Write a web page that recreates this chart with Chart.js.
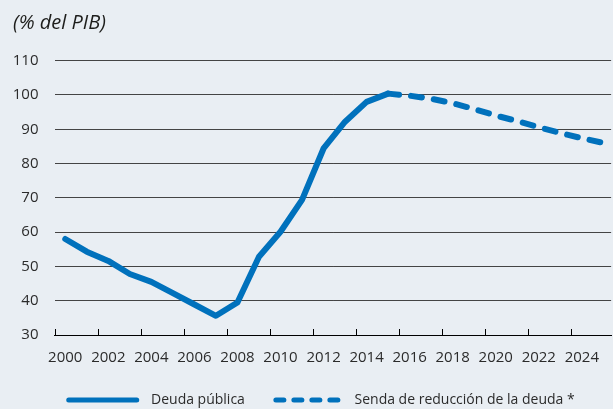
<!DOCTYPE html>
<html lang="es">
  <head>
    <meta charset="UTF-8" />
    <title>Deuda pública (% del PIB)</title>
    <script src="https://cdn.jsdelivr.net/npm/chart.js@4"></script>
    <style>
      html, body { margin: 0; padding: 0; background: #e9eef3; overflow: hidden; }
    </style>
  </head>
  <body>
    <canvas id="myChart" width="613" height="409"></canvas>

    <script>
      // Years and values
      const years = [2000, 2001, 2002, 2003, 2004, 2005, 2006, 2007, 2008, 2009, 2010, 2011, 2012,
                     2013, 2014, 2015, 2016, 2017, 2018, 2019, 2020, 2021, 2022, 2023, 2024, 2025];
      // 2000-2015 observed debt
      const deuda = [58.0, 54.3, 51.6, 47.8, 45.5, 42.2, 38.9, 35.6, 39.5, 52.8, 60.1, 69.4, 84.4,
                     92.2, 98.0, 100.4];
      // 2015-2025 reduction path
      const senda = [100.4, 99.8, 98.9, 97.6, 95.9, 94.0, 92.4, 90.6, 88.9, 87.4, 86.0];
      const xLabels = [2000, 2002, 2004, 2006, 2008, 2010, 2012, 2014, 2016, 2018, 2020, 2022, 2024];
      const yLabels = [30, 40, 50, 60, 70, 80, 90, 100, 110];
      const legendTexts = ['Deuda pública', 'Senda de reducción de la deuda *'];

      const blue = '#0071bc';
      const textColor = '#2b2b2b';
      const font = 'Open Sans';

      // small tick marks pointing up from the x axis, between the year labels
      const tickMarks = {
        id: 'tickMarks',
        afterDraw(chart) {
          const { ctx, chartArea, scales } = chart;
          ctx.save();
          ctx.strokeStyle = '#000';
          ctx.lineWidth = 1;
          xLabels.forEach(v => {
            const px = Math.round(scales.x.getPixelForValue(v - 0.5)) + 0.5;
            ctx.beginPath();
            ctx.moveTo(px, chartArea.bottom);
            ctx.lineTo(px, chartArea.bottom - 6);
            ctx.stroke();
          });
          ctx.restore();
        }
      };

      const ctx = document.getElementById('myChart').getContext('2d');
      const myChart = new Chart(ctx, {
        type: 'line',
        data: {
          datasets: [
            {
              label: legendTexts[0],
              data: deuda.map((v, i) => ({ x: years[i], y: v })),
              borderColor: blue,
              backgroundColor: blue,
              borderWidth: 6,
              borderCapStyle: 'round',
              borderJoinStyle: 'round',
              pointRadius: 0,
              tension: 0,
              fill: false
            },
            {
              label: legendTexts[1],
              data: senda.map((v, i) => ({ x: years[15 + i], y: v })),
              borderColor: blue,
              backgroundColor: blue,
              borderWidth: 6,
              borderDash: [11, 12],
              borderCapStyle: 'round',
              borderJoinStyle: 'round',
              pointRadius: 0,
              tension: 0,
              fill: false
            }
          ]
        },
        options: {
          responsive: false,
          animation: false,
          layout: { padding: { left: 13, right: 0, top: 0, bottom: 0 } },
          plugins: {
            title: {
              display: true,
              text: '(% del PIB)',
              align: 'start',
              color: '#1d1d1b',
              font: { family: font, size: 20, style: 'italic', weight: 'normal' },
              padding: { top: 11.5, bottom: 25.2 }
            },
            legend: {
              position: 'bottom',
              align: 'end',
              maxHeight: 47,
              labels: {
                usePointStyle: true,
                pointStyle: 'line',
                pointStyleWidth: 68,
                padding: 31,
                color: textColor,
                font: { family: font, size: 14 },
                generateLabels(chart) {
                  const items = Chart.defaults.plugins.legend.labels.generateLabels(chart);
                  items[0].text = '  ' + legendTexts[0];
                  items[1].text = ' ' + legendTexts[1] + '  ';
                  items.forEach(it => { it.lineWidth = 5; it.lineCap = 'round'; });
                  items[1].lineDash = [8, 10];
                  return items;
                }
              }
            },
            tooltip: { enabled: false }
          },
          scales: {
            x: {
              type: 'linear',
              min: 1999.5,
              max: 2025.36,
              afterBuildTicks: s => { s.ticks = xLabels.map(v => ({ value: v })); },
              afterFit: s => { s.height = 27; },
              grid: { display: false, drawTicks: false },
              border: { display: true, color: '#000', width: 1 },
              ticks: {
                padding: 14,
                color: textColor,
                autoSkip: false,
                maxRotation: 0,
                font: { family: font, size: 15 },
                callback: v => String(v)
              }
            },
            y: {
              min: 30,
              max: 110,
              afterBuildTicks: s => { s.ticks = yLabels.map(v => ({ value: v })); },
              afterFit: s => { s.width = 41.5; },
              grid: { color: '#444', lineWidth: 1, drawTicks: false },
              border: { display: false },
              ticks: {
                padding: 16,
                color: textColor,
                font: { family: font, size: 15 }
              }
            }
          }
        },
        plugins: [tickMarks]
      });
    </script>
  </body>
</html>
